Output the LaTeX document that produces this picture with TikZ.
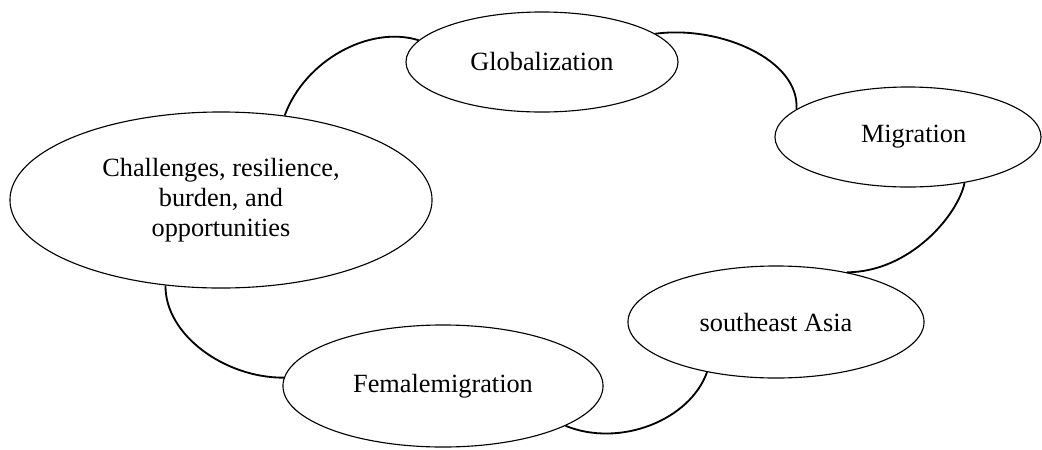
\documentclass[tikz,border=0pt]{standalone}
\usepackage{fontspec}
\setmainfont{Liberation Serif}
\usetikzlibrary{shapes.geometric}

\begin{document}
\begin{tikzpicture}[x=0.025cm, y=-0.025cm,
    bubble/.style={draw, ellipse, line width=0.8pt, inner sep=0pt, align=center,
        font=\fontsize{18.7}{21.3}\selectfont},
    link/.style={line width=1.3pt}]
    \useasboundingbox (0,0) rectangle (1042,449);
    \node[bubble, minimum width=6.8cm, minimum height=2.5cm] (glob) at (542,62) {Globalization};
    \node[bubble, minimum width=6.65cm, minimum height=2.5cm] (migr) at (908,137) {\hspace{8pt}Migration};
    \node[bubble, minimum width=7.4cm, minimum height=2.8cm] (asia) at (776,322) {southeast Asia};
    \node[bubble, minimum width=8cm, minimum height=3.05cm] (female) at (443,386) {Femalemigration};
    \node[bubble, minimum width=10.55cm, minimum height=4.4cm] (chal) at (221,200) {Challenges, resilience,\\burden, and\\opportunities};
    \draw[link] (chal.53) .. controls (305,60) and (370,25) .. (glob.170);
    \draw[link] (glob.14) .. controls (720,25) and (800,60) .. (migr.166);
    \draw[link] (migr.-39) .. controls (958,215) and (910,272) .. (asia.35);
    \draw[link] (asia.216) .. controls (690,420) and (620,448) .. (female.-18);
    \draw[link] (chal.237) .. controls (165,335) and (225,378) .. (female.177);
\end{tikzpicture}
\end{document}
